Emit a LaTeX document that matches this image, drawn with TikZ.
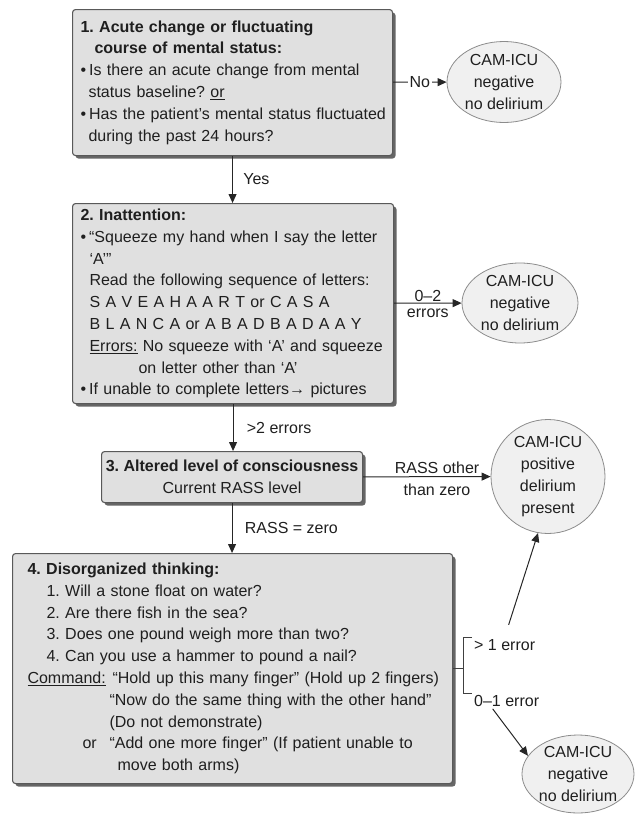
\documentclass[tikz,border=0pt]{standalone}
\usepackage{fontspec}
\setmainfont{Liberation Sans}
\usetikzlibrary{shapes,shadows,arrows.meta}
\newcommand{\qline}[1]{\mbox{#1}}

\begin{document}
\begin{tikzpicture}[x=1pt,y=-1pt,
    every node/.style={font=\fontsize{16}{21.8}\selectfont\frenchspacing,text=black!88},
    qbox/.style={draw=black!65,fill=black!12,line width=1.1pt,rounded corners=3pt,
      anchor=north west,align=left,inner ysep=0pt,
      drop shadow={shadow xshift=3pt,shadow yshift=-3pt,fill=black!60,opacity=1}},
    result/.style={ellipse,draw=black!45,fill=black!6,line width=0.8pt,
      inner sep=-6pt,align=center,font=\fontsize{16}{22.2}\selectfont},
    arr/.style={draw=black!85,line width=1pt,-{Triangle[length=9pt,width=8pt]}},
    brack/.style={draw=black!75,line width=0.8pt}]
    \useasboundingbox (0,0) rectangle (637,817);

    % questions
    \node[qbox,minimum width=320,minimum height=146,text width=304pt,inner xsep=8pt] (acute) at (72,9)
      {\qline{\textbf{1. Acute change or fluctuating}}\\
       \qline{\hspace*{14pt}\textbf{course of mental status:}}\\
       \qline{\textbullet\hspace{3pt}Is there an acute change from mental}\\
       \qline{\hspace*{8pt}status baseline? \underline{or}}\\
       \qline{\textbullet\hspace{3pt}Has the patient's mental status fluctuated}\\
       \qline{\hspace*{8pt}during the past 24 hours?}};
    \node[qbox,minimum width=321,minimum height=200,text width=305pt,inner xsep=8pt] (inatt) at (72,203)
      {\qline{\textbf{2. Inattention:}}\\
       \qline{\textbullet\hspace{3pt}“Squeeze my hand when I say the letter}\\
       \qline{\hspace*{9pt}‘A’”}\\
       \qline{\hspace*{9pt}Read the following sequence of letters:}\\
       \qline{\hspace*{9pt}S A V E A H A A R T or C A S A}\\
       \qline{\hspace*{9pt}B L A N C A or A B A D B A D A A Y}\\
       \qline{\hspace*{9pt}\underline{Errors:} No squeeze with ‘A’ and squeeze}\\
       \qline{\hspace*{58pt}on letter other than ‘A’}\\
       \qline{\textbullet\hspace{3pt}If unable to complete letters→ pictures}};
    \node[qbox,minimum width=261,minimum height=51,align=center,inner xsep=2pt] (loc) at (101,451)
      {\textbf{3. Altered level of consciousness}\\Current RASS level};
    \node[qbox,minimum width=440,minimum height=230,text width=410pt,inner xsep=15pt] (think) at (12,553)
      {\qline{\textbf{4. Disorganized thinking:}}\\
       \qline{\hspace*{19pt}1. Will a stone float on water?}\\
       \qline{\hspace*{19pt}2. Are there fish in the sea?}\\
       \qline{\hspace*{19pt}3. Does one pound weigh more than two?}\\
       \qline{\hspace*{19pt}4. Can you use a hammer to pound a nail?}\\
       \qline{\makebox[85pt][l]{\underline{Command:}}“Hold up this many finger” (Hold up 2 fingers)}\\
       \qline{\hspace*{82pt}“Now do the same thing with the other hand”}\\
       \qline{\hspace*{82pt}(Do not demonstrate)}\\
       \qline{\hspace*{55pt}\makebox[27pt][l]{or}“Add one more finger” (If patient unable to}\\
       \qline{\hspace*{90pt}move both arms)}};

    % outcomes
    \node[result,minimum width=114,minimum height=81] (neg1) at (504,82) {CAM-ICU\\negative\\no delirium};
    \node[result,minimum width=116,minimum height=80] (neg2) at (520,303) {CAM-ICU\\negative\\no delirium};
    \node[result,circle,minimum size=114] (pos) at (548,476.5) {CAM-ICU\\positive\\delirium\\present};
    \node[result,minimum width=112,minimum height=78] (neg3) at (578,774) {CAM-ICU\\negative\\no delirium};

    % flow
    \draw[arr] (acute) -- node[fill=white,inner sep=2pt]{No} (neg1);
    \draw[arr] (acute.south) -- node[right=7pt]{Yes} (acute.south |- inatt.north);
    \draw[arr] (inatt) -- node[above=-2pt]{0--2} node[below=2pt]{errors} (neg2);
    \draw[arr] (inatt.south) -- node[right=10pt]{>2 errors} (inatt.south |- loc.north);
    \draw[arr] (loc) -- node[pos=.58,above=-1pt]{RASS other} node[pos=.58,below=3pt]{than zero} (pos);
    \draw[arr] (loc.south) -- node[right=9pt]{RASS = zero} (loc.south |- think.north);

    % bracket for question 4
    \coordinate (brk) at ([xshift=10pt]think.east);
    \coordinate (uptick) at (472,637);
    \coordinate (lowtick) at (472,693);
    \node[anchor=west,inner sep=2pt] (gt) at (472,645) {> 1 error};
    \node[anchor=west,inner sep=2pt] (lt) at (472,701) {0--1 error};
    \draw[brack] (think.east) -- (brk) (uptick) -| (brk) |- (lowtick);
    \draw[arr,shorten <=13pt] (gt.north) -- (pos.-100);
    \draw[arr] ([xshift=-14pt]lt.south) -- (neg3.160);
\end{tikzpicture}
\end{document}
